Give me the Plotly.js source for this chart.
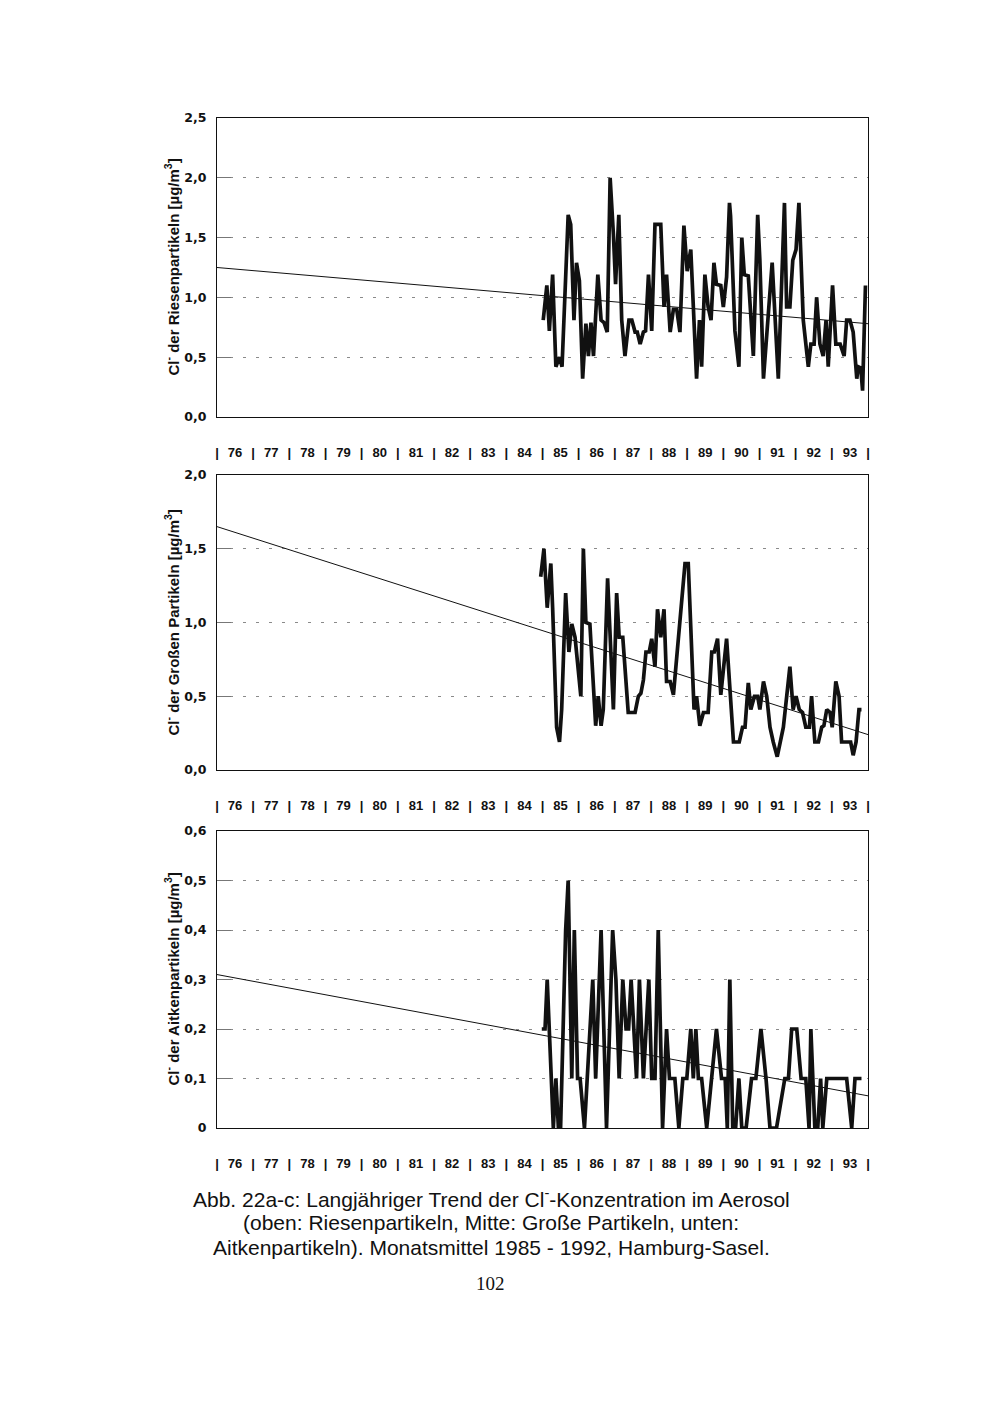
<!DOCTYPE html>
<html><head><meta charset="utf-8">
<script src="https://cdn.plot.ly/plotly-3.0.1.min.js"></script>
<style>body{margin:0;background:#fff}#c{width:1000px;height:1414px}</style>
</head><body><div id="c"></div>
<script>
// ---- data ----
const yearLabels = ['76','77','78','79','80','81','82','83','84','85','86','87','88','89','90','91','92','93'];
const firstYear = 1976;

const trendX = [1976, 1994];
const trendRiesen = [1.25, 0.78];
const trendGross = [1.65, 0.24];
const trendAitken = [0.31, 0.065];

const riesenX = [1985.02,1985.12,1985.19,1985.28,1985.37,1985.47,1985.54,1985.71,1985.78,1985.87,
1985.94,1986.02,1986.11,1986.20,1986.27,1986.34,1986.41,1986.53,1986.62,1986.70,
1986.79,1986.87,1986.96,1987.02,1987.11,1987.19,1987.28,1987.39,1987.47,1987.56,
1987.62,1987.70,1987.79,1987.85,1987.93,1988.02,1988.11,1988.27,1988.36,1988.43,
1988.53,1988.62,1988.71,1988.80,1988.91,1989.00,1989.10,
1989.26,1989.34,1989.40,1989.49,1989.58,1989.66,1989.74,1989.81,1989.93,1990.00,
1990.09,1990.17,1990.20,1990.32,1990.43,1990.51,1990.58,1990.69,1990.83,1990.95,
1991.01,1991.11,1991.24,1991.35,1991.52,1991.69,1991.75,1991.84,1991.92,1992.01,
1992.09,1992.21,1992.35,1992.42,1992.51,1992.58,1992.67,1992.76,1992.84,1992.90,
1993.02,1993.11,1993.23,1993.34,1993.41,1993.50,1993.59,1993.69,1993.73,1993.80,
1993.85,1993.93];
const riesenY = [0.81,1.10,0.72,1.19,0.42,0.50,0.42,1.69,1.61,0.81,
1.29,1.14,0.32,0.78,0.51,0.79,0.51,1.19,0.81,0.79,
0.71,2.00,1.53,1.11,1.69,0.81,0.51,0.81,0.81,0.71,
0.71,0.61,0.71,0.72,1.19,0.72,1.61,1.61,0.92,1.19,
0.71,0.90,0.90,0.71,1.60,1.22,1.40,
0.32,0.81,0.42,1.19,0.92,0.81,1.29,1.11,1.10,0.92,
1.17,1.79,1.68,0.72,0.42,1.50,1.19,1.18,0.51,1.69,
1.31,0.32,0.82,1.29,0.32,1.79,0.92,0.92,1.31,1.40,
1.79,0.81,0.42,0.61,0.61,1.00,0.61,0.51,0.81,0.42,
1.10,0.61,0.61,0.51,0.81,0.81,0.71,0.32,0.42,0.41,
0.22,1.10];

const grossX = [1984.95,1985.04,1985.13,1985.23,1985.28,1985.39,1985.47,1985.53,1985.64,1985.73,
1985.81,1985.90,1986.06,1986.13,1986.20,1986.31,1986.47,1986.54,1986.62,1986.68,
1986.80,1986.87,1986.96,1987.05,1987.12,1987.22,1987.37,1987.56,1987.65,1987.72,
1987.79,1987.86,1987.95,1988.02,1988.11,1988.18,1988.27,1988.36,1988.43,1988.53,
1988.62,1988.94,1989.03,
1989.19,1989.26,1989.35,1989.45,1989.58,1989.68,1989.75,1989.84,1989.93,1990.09,
1990.28,1990.44,1990.53,1990.60,1990.69,1990.76,1990.86,1990.95,1991.01,1991.11,
1991.20,1991.29,1991.38,1991.49,1991.66,1991.84,1991.93,1992.01,1992.10,1992.19,
1992.28,1992.38,1992.44,1992.53,1992.63,1992.72,1992.78,1992.86,1992.95,1993.01,
1993.11,1993.20,1993.27,1993.41,1993.52,1993.59,1993.67,1993.75,1993.82];
const grossY = [1.31,1.50,1.10,1.40,1.10,0.29,0.19,0.41,1.20,0.80,
0.99,0.90,0.50,1.50,1.00,0.99,0.30,0.50,0.30,0.41,
1.30,0.90,0.41,1.20,0.90,0.90,0.39,0.39,0.50,0.52,
0.61,0.80,0.80,0.89,0.70,1.09,0.90,1.09,0.60,0.60,
0.51,1.40,1.40,
0.41,0.50,0.30,0.39,0.39,0.80,0.80,0.89,0.51,0.89,
0.19,0.19,0.29,0.29,0.59,0.41,0.50,0.50,0.41,0.60,
0.50,0.29,0.19,0.09,0.29,0.70,0.41,0.50,0.41,0.39,
0.29,0.29,0.50,0.19,0.19,0.29,0.30,0.41,0.39,0.29,
0.60,0.50,0.19,0.19,0.19,0.10,0.19,0.41,0.41];

const aitkenX = [1984.98,1985.07,1985.13,1985.30,1985.37,1985.44,1985.50,1985.64,1985.71,1985.81,
1985.88,1985.97,1986.04,1986.16,1986.39,1986.47,1986.62,1986.70,1986.77,1986.94,
1987.03,1987.12,1987.22,1987.31,1987.38,1987.45,1987.60,1987.68,1987.79,1987.94,
1988.02,1988.11,1988.20,1988.32,1988.43,1988.51,1988.66,1988.77,1988.88,1988.99,
1989.10,1989.17,1989.24,1989.31,
1989.40,1989.54,1989.81,1989.95,1990.05,1990.11,1990.18,1990.26,1990.34,1990.43,
1990.51,1990.63,1990.78,1990.90,1991.04,1991.18,1991.29,1991.47,1991.70,1991.80,
1991.89,1992.03,1992.15,1992.28,1992.37,1992.42,1992.53,1992.61,1992.69,1992.75,
1992.86,1993.41,1993.55,1993.64,1993.82];
const aitkenY = [0.20,0.20,0.30,0,0.10,0,0,0.40,0.50,0.10,
0.40,0.10,0.10,0,0.30,0.10,0.40,0.20,0,0.40,
0.30,0.10,0.30,0.20,0.20,0.30,0.10,0.30,0.10,0.30,
0.10,0.10,0.40,0,0.20,0.10,0.10,0,0.10,0.10,
0.20,0.10,0.20,0.10,
0.10,0,0.20,0.10,0.10,0,0.30,0,0,0.10,
0,0,0.10,0.10,0.20,0.10,0,0,0.10,0.10,
0.20,0.20,0.10,0.10,0,0.20,0,0,0.10,0,
0.10,0.10,0,0.10,0.10];

const yTicks1 = [0,0.5,1,1.5,2,2.5];
const yText1 = ['0,0','0,5','1,0','1,5','2,0','2,5'];
const yTicks2 = [0,0.5,1,1.5,2];
const yText2 = ['0,0','0,5','1,0','1,5','2,0'];
const yTicks3 = [0,0.1,0.2,0.3,0.4,0.5,0.6];
const yText3 = ['0','0,1','0,2','0,3','0,4','0,5','0,6'];

const yTitles = ['Cl<sup>-</sup> der Riesenpartikeln [µg/m<sup>3</sup>]',
                 'Cl<sup>-</sup> der Großen Partikeln [µg/m<sup>3</sup>]',
                 'Cl<sup>-</sup> der Aitkenpartikeln [µg/m<sup>3</sup>]'];
const captionLines = ['Abb. 22a-c: Langjähriger Trend der Cl<sup>-</sup>-Konzentration im Aerosol',
                      '(oben: Riesenpartikeln, Mitte: Große Partikeln, unten:',
                      'Aitkenpartikeln). Monatsmittel 1985 - 1992, Hamburg-Sasel.'];
const pageNumber = '102';

// ---- layout helpers ----
const H = 1414, W = 1000;
const py = v => 1 - v / H;   // page pixel -> paper
const px = v => v / W;
const panels = [
  {top:118, bottom:417},
  {top:475, bottom:770},
  {top:831, bottom:1128}
];

const xTickVals = [], xTickText = [];
yearLabels.forEach((lab, i) => {
  xTickVals.push(firstYear + i); xTickText.push('|');
  xTickVals.push(firstYear + i + 0.5); xTickText.push(lab);
});
xTickVals.push(firstYear + yearLabels.length); xTickText.push('|');

const xTickFont = {family:'Liberation Sans, Arial, sans-serif', size:13, color:'#111', weight:'bold'};
const yTickFont = {family:'DejaVu Sans, Verdana, sans-serif', size:12.5, color:'#111', weight:'bold'};

function xax(anchor) {
  return {
    domain:[px(217), px(868)], range:[1976, 1994], anchor:anchor,
    showline:true, mirror:true, linecolor:'#111', linewidth:1,
    showgrid:false, zeroline:false, ticks:'',
    tickmode:'array', tickvals:xTickVals, ticktext:xTickText,
    tickfont:xTickFont, ticklabelstandoff:23, fixedrange:true
  };
}
function yax(anchor, p, range, tv, tt) {
  return {
    domain:[py(p.bottom), py(p.top)], range:range, anchor:anchor,
    showline:true, mirror:true, linecolor:'#111', linewidth:1,
    showgrid:true, gridcolor:'#8a8a8a', gridwidth:1, griddash:'3px,10px',
    zeroline:false, ticks:'inside', ticklen:14, tickcolor:'#777', tickwidth:1,
    tickmode:'array', tickvals:tv, ticktext:tt,
    tickfont:yTickFont, ticklabelstandoff:7, fixedrange:true
  };
}

const dataLine = {color:'#111', width:3.7};
const trendLine = {color:'#111', width:1};

const traces = [
  {x:trendX, y:trendRiesen, xaxis:'x', yaxis:'y', mode:'lines', line:trendLine, hoverinfo:'skip'},
  {x:riesenX, y:riesenY, xaxis:'x', yaxis:'y', mode:'lines', line:dataLine},
  {x:trendX, y:trendGross, xaxis:'x2', yaxis:'y2', mode:'lines', line:trendLine, hoverinfo:'skip'},
  {x:grossX, y:grossY, xaxis:'x2', yaxis:'y2', mode:'lines', line:dataLine},
  {x:trendX, y:trendAitken, xaxis:'x3', yaxis:'y3', mode:'lines', line:trendLine, hoverinfo:'skip'},
  {x:aitkenX, y:aitkenY, xaxis:'x3', yaxis:'y3', mode:'lines', line:dataLine}
];

const annotations = [];
panels.forEach((p, i) => {
  annotations.push({
    xref:'paper', yref:'paper', x:px(172), y:py((p.top + p.bottom)/2),
    text:yTitles[i], textangle:-90, showarrow:false, xanchor:'center', yanchor:'middle',
    font:{family:'Liberation Sans Narrow, Arial Narrow, Liberation Sans, Arial, sans-serif', size:15, color:'#111', weight:'bold'}
  });
});
const capY = [1198, 1222, 1247];
captionLines.forEach((t, i) => {
  annotations.push({
    xref:'paper', yref:'paper', x:px(491), y:py(capY[i]), text:t, showarrow:false,
    xanchor:'center', yanchor:'middle',
    font:{family:'Liberation Sans, Arial, sans-serif', size:21, color:'#111'}
  });
});
annotations.push({
  xref:'paper', yref:'paper', x:px(490), y:py(1283), text:pageNumber, showarrow:false,
  xanchor:'center', yanchor:'middle',
  font:{family:'Liberation Serif, Times New Roman, serif', size:19, color:'#111'}
});

const layout = {
  width:W, height:H, margin:{l:0, r:0, t:0, b:0},
  paper_bgcolor:'#fff', plot_bgcolor:'#fff', showlegend:false,
  xaxis:xax('y'), yaxis:yax('x', panels[0], [0, 2.5], yTicks1, yText1),
  xaxis2:xax('y2'), yaxis2:yax('x2', panels[1], [0, 2.0], yTicks2, yText2),
  xaxis3:xax('y3'), yaxis3:yax('x3', panels[2], [0, 0.6], yTicks3, yText3),
  annotations:annotations
};

Plotly.newPlot('c', traces, layout, {staticPlot:true, displayModeBar:false});
</script>
</body></html>
